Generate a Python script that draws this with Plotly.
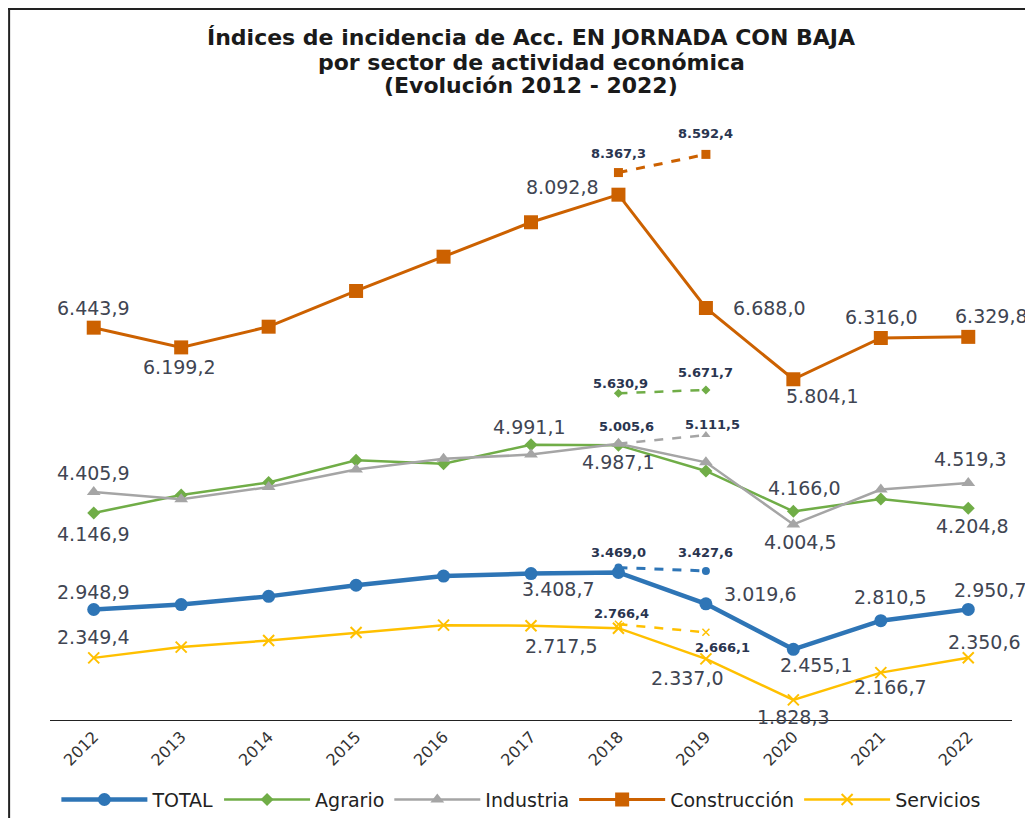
import plotly.graph_objects as go

years = [2012, 2013, 2014, 2015, 2016, 2017, 2018, 2019, 2020, 2021, 2022]
tick_labels = ["2012", "2013", "2014", "2015", "2016", "2017", "2018", "2019", "2020", "2021", "2022"]

total = [2948.9, 3010, 3112, 3250, 3364, 3395, 3408.7, 3019.6, 2455.1, 2810.5, 2950.7]
agrario = [4146.9, 4368, 4524, 4799, 4758, 4991.1, 4987.1, 4667, 4166.0, 4319, 4204.8]
industria = [4405.9, 4316, 4467, 4685, 4817, 4870, 5005, 4774, 4004.5, 4437, 4519.3]
construccion = [6443.9, 6199.2, 6456, 6899, 7324, 7751, 8092.8, 6688.0, 5804.1, 6316.0, 6329.8]
servicios = [2349.4, 2483, 2565, 2664, 2755, 2748, 2717.5, 2337.0, 1828.3, 2166.7, 2350.6]

# alternative (dashed) values for 2018-2019
alt_years = [2018, 2019]
total_alt = [3469.0, 3427.6]
agrario_alt = [5630.9, 5671.7]
industria_alt = [5005.6, 5111.5]
construccion_alt = [8367.3, 8592.4]
servicios_alt = [2766.4, 2666.1]

series_names = ["TOTAL", "Agrario", "Industria", "Construcción", "Servicios"]
title_lines = ["Índices de incidencia de Acc. EN JORNADA CON BAJA",
               "por sector de actividad económica",
               "(Evolución 2012 - 2022)"]


def fmt(v):
    s = f"{v:,.1f}"
    return s.replace(",", "X").replace(".", ",").replace("X", ".")


BLUE = "#2E75B6"
GREEN = "#70AD47"
GRAY = "#A5A5A5"
ORANGE = "#CC6100"
YELLOW = "#FFC000"
LABEL = "#404552"
SMALL = "#2A3550"

fig = go.Figure()

styles = [
    (total, BLUE, dict(symbol="circle", size=13), 4.5),
    (agrario, GREEN, dict(symbol="diamond", size=10), 2.5),
    (industria, GRAY, dict(symbol="triangle-up", size=12), 2.5),
    (construccion, ORANGE, dict(symbol="square", size=14), 3),
    (servicios, YELLOW, dict(symbol="x-thin", size=11, line=dict(width=2, color=YELLOW)), 2.5),
]
for name, (vals, col, mk, lw) in zip(series_names, styles):
    fig.add_trace(go.Scatter(
        x=years, y=vals, name=name, mode="lines+markers",
        line=dict(color=col, width=lw), marker=dict(color=col, **mk),
    ))

alt_styles = [
    (total_alt, BLUE, dict(symbol="circle", size=8), 3),
    (agrario_alt, GREEN, dict(symbol="diamond", size=7), 2.5),
    (industria_alt, GRAY, dict(symbol="triangle-up", size=8), 2.5),
    (construccion_alt, ORANGE, dict(symbol="square", size=9), 3),
    (servicios_alt, YELLOW, dict(symbol="x-thin", size=7, line=dict(width=1.5, color=YELLOW)), 2.5),
]
for vals, col, mk, lw in alt_styles:
    fig.add_trace(go.Scatter(
        x=alt_years, y=vals, mode="lines+markers", showlegend=False, hoverinfo="skip",
        line=dict(color=col, width=lw, dash="dash"), marker=dict(color=col, **mk),
    ))

# label placement: (series values, year index, xshift, yshift)
main_labels = [
    (total, 0, 0, 18), (total, 6, -60, -17), (total, 7, 55, 10), (total, 8, 23, -16),
    (total, 9, 10, 24), (total, 10, 22, 19),
    (servicios, 0, 0, 21), (servicios, 6, -57, -18), (servicios, 7, -18, -19),
    (servicios, 8, 0, -17), (servicios, 9, 10, -14), (servicios, 10, 16, 16),
    (agrario, 0, 0, -21), (agrario, 5, -2, 18), (agrario, 6, 0, -17), (agrario, 8, 11, 23),
    (agrario, 10, 4, -18),
    (industria, 0, 0, 19), (industria, 8, 7, -18), (industria, 10, 2, 24),
    (construccion, 0, 0, 20), (construccion, 1, -2, -20), (construccion, 6, -56, 8),
    (construccion, 7, 64, 0), (construccion, 8, 29, -17), (construccion, 9, 1, 21),
    (construccion, 10, 23, 21),
]
ann = []
for vals, i, dx, dy in main_labels:
    ann.append(dict(x=years[i], y=vals[i], xref="x", yref="y", text=fmt(vals[i]),
                    showarrow=False, xshift=dx, yshift=dy,
                    font=dict(family="DejaVu Sans", size=19, color=LABEL)))

alt_labels = [
    (construccion_alt, 0, 0, 19), (construccion_alt, 1, 0, 21),
    (agrario_alt, 0, 2, 10), (agrario_alt, 1, 0, 17),
    (industria_alt, 0, 8, 17), (industria_alt, 1, 7, 11),
    (total_alt, 0, 0, 15), (total_alt, 1, 0, 18),
    (servicios_alt, 0, 3, 11), (servicios_alt, 1, 17, -15),
]
for vals, i, dx, dy in alt_labels:
    ann.append(dict(x=alt_years[i], y=vals[i], xref="x", yref="y", text="<b>" + fmt(vals[i]) + "</b>",
                    showarrow=False, xshift=dx, yshift=dy,
                    font=dict(family="DejaVu Sans", size=13, color=SMALL)))

for line, ty in zip(title_lines, [1.156, 1.115, 1.0746]):
    ann.append(dict(x=0.5, y=ty, xref="paper", yref="paper", text="<b>" + line + "</b>",
                    showarrow=False, xanchor="center", yanchor="middle",
                    font=dict(family="DejaVu Sans", size=22, color="#1a1a1a")))

fig.update_layout(
    width=1025, height=810,
    margin=dict(l=42, r=21, t=122, b=98, autoexpand=False),
    paper_bgcolor="white", plot_bgcolor="white",
    xaxis=dict(range=[2011.5, 2022.5], showgrid=False, zeroline=False,
               tickvals=years, ticktext=tick_labels,
               showline=True, linecolor="#222222", linewidth=1.2, ticks="",
               tickangle=-45, tickfont=dict(family="DejaVu Sans", size=16, color="#333333")),
    yaxis=dict(range=[1579, 8895], visible=False),
    legend=dict(orientation="h", x=0.49, xanchor="center", y=-0.135, yanchor="middle",
                font=dict(family="DejaVu Sans", size=19, color="#222222"),
                itemwidth=86, tracegroupgap=0),
    annotations=ann,
    shapes=[
        dict(type="line", xref="paper", yref="paper", x0=-0.044, x1=1.03, y0=1.205, y1=1.205,
             line=dict(color="#222222", width=2)),
        dict(type="line", xref="paper", yref="paper", x0=-0.0425, x1=-0.0425, y0=1.205, y1=-0.2,
             line=dict(color="#222222", width=2)),
    ],
    showlegend=True,
)

fig.write_html("out.html")
